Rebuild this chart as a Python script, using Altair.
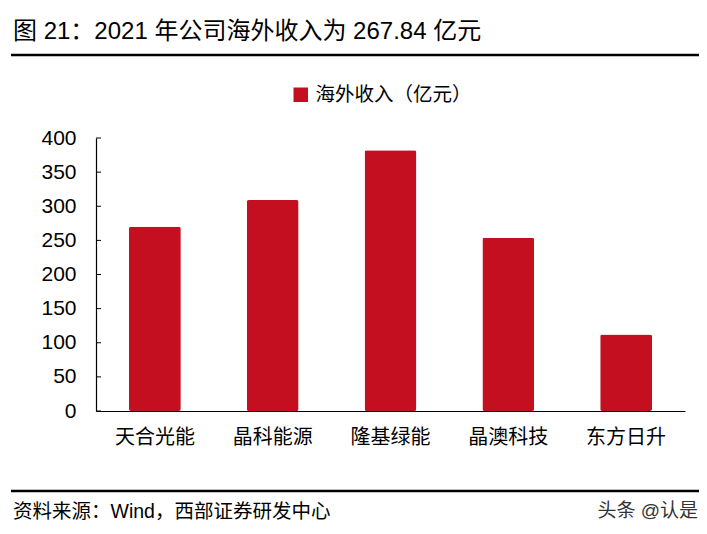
import altair as alt
import pandas as pd

companies = ["天合光能", "晶科能源", "隆基绿能", "晶澳科技", "东方日升"]
overseas = [270, 309, 382, 254, 112]
series_name = "海外收入（亿元）"
y_ticks = [0, 50, 100, 150, 200, 250, 300, 350, 400]
title_text = "图 21：2021 年公司海外收入为 267.84 亿元"
source_text = "资料来源：Wind，西部证券研发中心"
watermark_text = "头条 @认是"

FONT = "Liberation Sans, Arial, Noto Sans CJK SC"
RED = "#C30F1F"

df = pd.DataFrame({"company": companies, "value": overseas, "series": [series_name] * len(companies)})
ticks_df = pd.DataFrame({"v": y_ticks})

W, H = 589, 273

y_scale = alt.Scale(domain=[0, 400], nice=False)
y_axis = alt.Axis(values=y_ticks, labelFontSize=21, labelFont=FONT, labelColor="#000",
                  labelOverlap=False, labelFlush=False,
                  tickSize=0, labelPadding=20, grid=False, domainColor="#000", domainWidth=1.2)

x_enc = alt.X("company:N", sort=companies, title=None,
              scale=alt.Scale(paddingInner=0.56, paddingOuter=0.28),
              axis=alt.Axis(labelAngle=0, labelFontSize=20, labelFont=FONT, labelColor="#000",
                            tickSize=0, labelPadding=16, domainColor="#000", domainWidth=1.2))

bars = alt.Chart(df).mark_bar(cornerRadius=2, color=RED).encode(
    x=x_enc,
    y=alt.Y("value:Q", title=None, scale=y_scale, axis=y_axis),
    color=alt.Color("series:N", scale=alt.Scale(range=[RED]),
                    legend=alt.Legend(title=None, orient="none", legendX=195, legendY=-53,
                                      symbolType="square", symbolSize=210, symbolStrokeWidth=0,
                                      labelFontSize=19.5, labelFont=FONT, labelColor="#000",
                                      labelOffset=5, padding=0)),
)

tick_marks = alt.Chart(ticks_df).mark_rule(color="#000", strokeWidth=1).encode(
    y=alt.Y("v:Q", title=None, scale=y_scale, axis=y_axis),
    x=alt.value(0), x2=alt.value(5),
)

title_mark = alt.Chart(pd.DataFrame({"t": [title_text]})).mark_text(
    align="left", baseline="middle", fontSize=24, font=FONT, color="#000"
).encode(text="t:N", x=alt.value(-83), y=alt.value(-106))

title_line = alt.Chart(pd.DataFrame({"a": [0]})).mark_rule(color="#000", strokeWidth=2.5).encode(
    x=alt.value(-85), x2=alt.value(609), y=alt.value(-83))

foot_line = alt.Chart(pd.DataFrame({"a": [0]})).mark_rule(color="#000", strokeWidth=2.5).encode(
    x=alt.value(-85), x2=alt.value(609), y=alt.value(353))

source_mark = alt.Chart(pd.DataFrame({"t": [source_text]})).mark_text(
    align="left", baseline="middle", fontSize=19.5, font=FONT, color="#000"
).encode(text="t:N", x=alt.value(-83), y=alt.value(374))

wm_mark = alt.Chart(pd.DataFrame({"t": [watermark_text]})).mark_text(
    align="right", baseline="middle", fontSize=19, font=FONT, color="#333"
).encode(text="t:N", x=alt.value(602), y=alt.value(373))

chart = alt.layer(bars, tick_marks, title_mark, title_line, foot_line, source_mark, wm_mark).properties(
    width=W, height=H,
    autosize=alt.AutoSizeParams(type="none"),
    padding={"left": 88, "top": 130, "right": 14, "bottom": 113},
    background="white",
).configure_view(strokeWidth=0, stroke="transparent").configure_axis(labelOverlap=False)

chart.save("out.html", embed_options={"renderer": "svg", "actions": False})
